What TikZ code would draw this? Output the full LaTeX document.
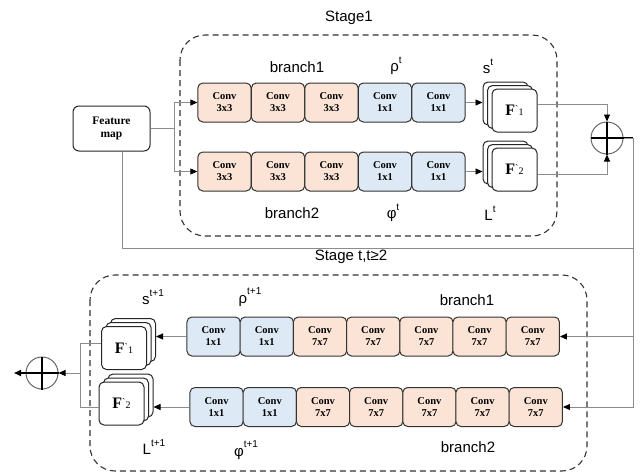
\documentclass[tikz,border=0pt]{standalone}
\usepackage{fontspec}
\setmainfont{Liberation Serif}
\newfontfamily\lblfont{Liberation Sans}
\usetikzlibrary{arrows.meta}
\definecolor{convO}{HTML}{FBE4D5}
\definecolor{convB}{HTML}{DDEAF6}
\definecolor{linegray}{HTML}{8C8C8C}
\newcommand{\suplbl}[2]{#1\raisebox{1.05ex}{\fontsize{10}{10}\selectfont #2}}
\newcommand{\Fsub}[1]{{\fontsize{16}{16}\selectfont\bfseries F}{\fontsize{10}{10}\selectfont\raisebox{3pt}{\textasciigrave}#1}}
\begin{document}
\begin{tikzpicture}[x=1pt,y=-1pt,
 conv/.style={draw=black!80, line width=1pt, rounded corners=5pt, minimum width=53.3pt, minimum height=39pt, inner sep=0pt, align=center, font=\fontsize{10.5}{12}\selectfont\bfseries},
 convo/.style={conv, fill=convO},
 convb/.style={conv, fill=convB},
 card/.style={draw=black!85, line width=1pt, fill=white, rounded corners=5pt, minimum width=45pt, minimum height=43pt, inner sep=0pt},
 stagebox/.style={draw=black!80, dash pattern=on 6pt off 4pt, line width=1.1pt, rounded corners=25pt},
 lbl/.style={font=\lblfont\fontsize{15}{16}\selectfont, inner sep=0pt},
 conn/.style={draw=linegray, line width=0.9pt},
 arr/.style={conn, -{Triangle[length=7pt,width=6pt,color=black,fill=black]}},
 sumc/.style={circle, draw=black!60, line width=1pt, minimum size=32pt, inner sep=0pt},
 cross/.style={draw=black, line width=1.7pt},
 ]
\useasboundingbox (0,0) rectangle (641,474);

% ---------- Stage 1 ----------
\node[lbl] (st1) at (349,18) {Stage1};
\draw[stagebox] (180,35) rectangle (557,236);

\node[draw=black!85, line width=1pt, rounded corners=6pt, minimum width=77pt, minimum height=45pt, inner sep=0pt, align=center, font=\fontsize{11.5}{13}\selectfont\bfseries] (fm) at (111.5,128.5) {Feature\\map};

\node[convo] (u11) at (224.5,102.5) {Conv\\3x3};
\node[convo] (u12) at (278,102.5) {Conv\\3x3};
\node[convo] (u13) at (331.5,102.5) {Conv\\3x3};
\node[convb] (u14) at (385,102.5) {Conv\\1x1};
\node[convb] (u15) at (438.5,102.5) {Conv\\1x1};

\node[convo] (u21) at (224.5,171.5) {Conv\\3x3};
\node[convo] (u22) at (278,171.5) {Conv\\3x3};
\node[convo] (u23) at (331.5,171.5) {Conv\\3x3};
\node[convb] (u24) at (385,171.5) {Conv\\1x1};
\node[convb] (u25) at (438.5,171.5) {Conv\\1x1};

\node[lbl] (ub1) at (297,67) {branch1};
\node[lbl] (ub2) at (292,213) {branch2};
\node[lbl] (urho) at (396,66) {\suplbl{ρ}{t}};
\node[lbl] (us) at (488,66) {\suplbl{s}{t}};
\node[lbl] (uphi) at (393,213) {\suplbl{φ}{t}};
\node[lbl] (uL) at (490,213) {\suplbl{L}{t}};

\node[card] (f1b2) at (505.5,103.5) {};
\node[card] (f1b1) at (510,107) {};
\node[card] (f1) at (514.5,110.5) {\Fsub{1}};
\node[card] (f2b2) at (505.5,162.5) {};
\node[card] (f2b1) at (510,166) {};
\node[card] (f2) at (514.5,169.5) {\Fsub{2}};

\coordinate (fk) at (174,128.5);
\draw[conn] (fm.east) -- (fk);
\draw[arr] (fk) |- (u11.west);
\draw[arr] (fk) |- (u21.west);
\draw[arr] (u15.east) -- (u15.east -| f1b2.west);
\draw[arr] (u25.east) -- (u25.east -| f2b2.west);

\node[sumc] (sA) at (607,138) {};
\coordinate (rA) at (633,138);
\draw[arr] ([yshift=6pt]f1.east) -| (sA.north);
\draw[arr] ([yshift=-5pt]f2.east) -| (sA.south);
\draw[cross] (sA.north) -- (sA.south);
\draw[cross] (sA.west) -- (rA);

% ---------- feedback lines ----------
\coordinate (fl) at (122,248);
\draw[conn] (fl |- fm.south) -- (fl) -- (fl -| rA);

% ---------- Stage t ----------
\node[lbl] (st2) at (351,257) {Stage t,t≥2};
\draw[stagebox] (90,275) rectangle (587,471);

\node[convb] (l11) at (213.6,336.5) {Conv\\1x1};
\node[convb] (l12) at (266.8,336.5) {Conv\\1x1};
\node[convo] (l13) at (320,336.5) {Conv\\7x7};
\node[convo] (l14) at (373.2,336.5) {Conv\\7x7};
\node[convo] (l15) at (426.4,336.5) {Conv\\7x7};
\node[convo] (l16) at (479.6,336.5) {Conv\\7x7};
\node[convo] (l17) at (532.8,336.5) {Conv\\7x7};

\node[convb] (l21) at (216.6,407) {Conv\\1x1};
\node[convb] (l22) at (269.8,407) {Conv\\1x1};
\node[convo] (l23) at (323,407) {Conv\\7x7};
\node[convo] (l24) at (376.2,407) {Conv\\7x7};
\node[convo] (l25) at (429.4,407) {Conv\\7x7};
\node[convo] (l26) at (482.6,407) {Conv\\7x7};
\node[convo] (l27) at (535.8,407) {Conv\\7x7};

\draw[conn] (sA.east) -- (rA);
\draw[arr] (rA) |- (l17.east);
\draw[arr] (rA) |- (l27.east);

\node[lbl] (ls) at (153,297) {\suplbl{s}{t+1}};
\node[lbl] (lrho) at (250,297) {\suplbl{ρ}{t+1}};
\node[lbl] (lb1) at (467,300) {branch1};
\node[lbl] (lb2) at (468,447) {branch2};
\node[lbl] (lL) at (154,447) {\suplbl{L}{t+1}};
\node[lbl] (lphi) at (246,450) {\suplbl{φ}{t+1}};

\node[card] (g1b2) at (133,340) {};
\node[card] (g1b1) at (128.5,344) {};
\node[card] (g1) at (124,348) {\Fsub{1}};
\node[card] (g2b2) at (130.5,395.5) {};
\node[card] (g2b1) at (126,399.5) {};
\node[card] (g2) at (121.5,403.5) {\Fsub{2}};

\draw[arr] (l11.west) -- (l11.west -| g1b2.east);
\draw[arr] (l21.west) -- (l21.west -| g2b2.east);

\coordinate (jn) at (80,373);
\draw[conn] ([yshift=5pt]g1.west) -| (jn);
\draw[conn] ([yshift=-3.5pt]g2.west) -| (jn);

\node[sumc] (sB) at (42,373) {};
\coordinate (outB) at (14,373);
\draw[arr] (jn) -- (sB.east);
\draw[cross] (sB.north) -- (sB.south);
\draw[cross, -{Triangle[length=7pt,width=6pt]}] (sB.east) -- (outB);
\end{tikzpicture}
\end{document}
